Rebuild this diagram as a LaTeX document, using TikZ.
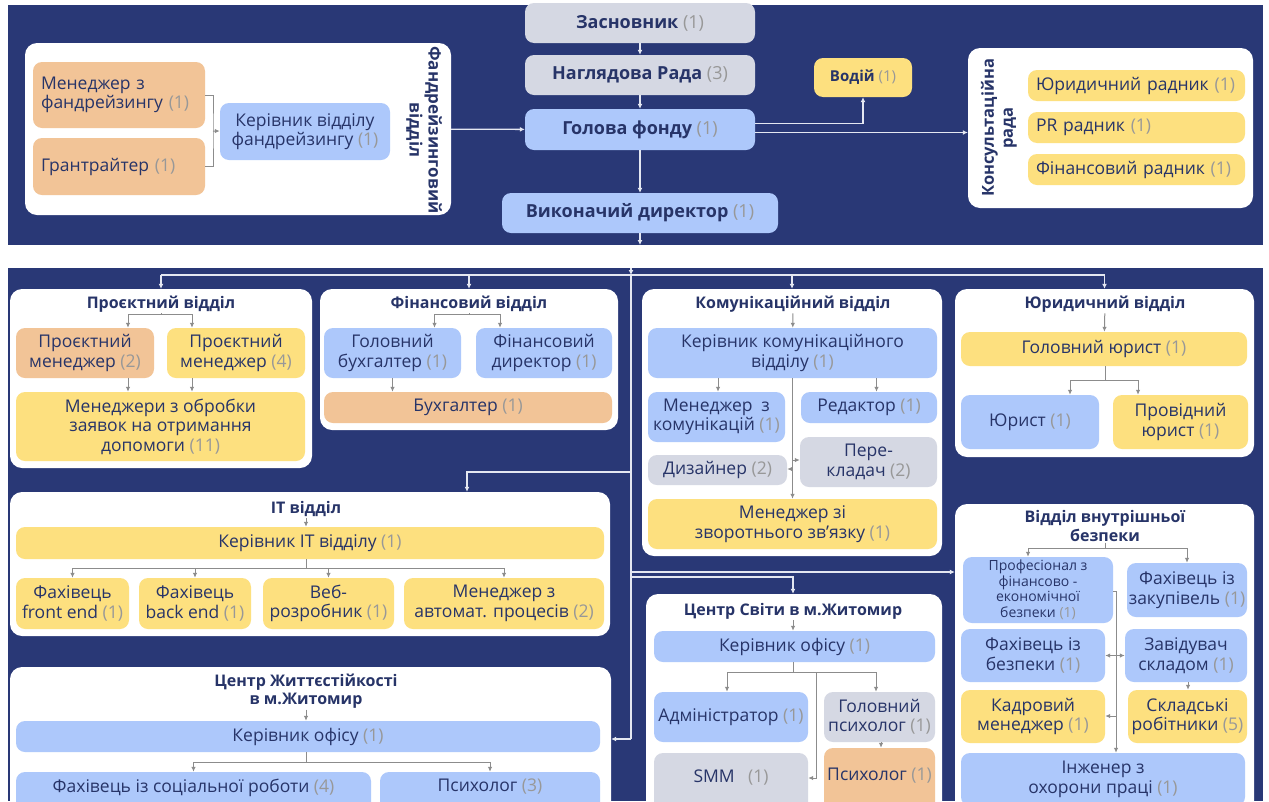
\documentclass[tikz,border=0pt]{standalone}
\usepackage{fontspec}
\setmainfont{Open Sans}
\usetikzlibrary{arrows.meta}

\definecolor{navy}{RGB}{41,56,118}
\definecolor{ink}{RGB}{39,52,104}
\definecolor{cntgray}{RGB}{152,152,152}
\definecolor{boxblue}{RGB}{173,200,251}
\definecolor{boxyel}{RGB}{253,224,127}
\definecolor{boxorg}{RGB}{242,196,151}
\definecolor{boxgray}{RGB}{213,216,227}
\definecolor{wl}{RGB}{228,231,241}
\definecolor{gl}{RGB}{140,140,140}

\newcommand{\fsz}[2]{\fontsize{#1}{#2}\selectfont}
\newcommand{\cntn}[1]{{\mdseries\color{cntgray}(#1)}}
% style, name, x1, y1, x2, y2, text
\newcommand{\rbox}[7]{
    \node[#1, minimum width={(#5-#3)*1pt}, minimum height={(#6-#4)*1pt}]
        (#2) at ({(#3+#5)/2},{(#4+#6)/2}) {#7};
}

\tikzset{
    card/.style={rounded corners=9pt, inner sep=1pt, align=center, text=ink, font=\fsz{17.5}{19.5}},
    blubox/.style={card, fill=boxblue},
    yelbox/.style={card, fill=boxyel},
    orgbox/.style={card, fill=boxorg},
    grybox/.style={card, fill=boxgray},
    dept/.style={rounded corners=12pt, fill=white},
    ttl/.style={text=ink, font=\bfseries\fsz{16}{18.5}, align=center, inner sep=1pt},
    topfont/.style={font=\bfseries\fsz{18}{20}},
    lft/.style={align=left, inner xsep=8pt, text width=#1},
    cutbox/.style={text depth=#1},
    wline/.style={draw=wl, line width=1.3pt},
    warr/.style={wline, -{Latex[length=5pt,width=5pt]}},
    gline/.style={draw=gl, line width=1pt},
    garr/.style={gline, -{Latex[length=5pt,width=4.5pt]}},
    dbl/.style={gline, {Latex[length=5pt,width=4.5pt]}-{Latex[length=5pt,width=4.5pt]}}
}

\begin{document}
\begin{tikzpicture}[x=1pt, y=-1pt]
    \useasboundingbox (0,0) rectangle (1269,801);
    \clip (0,0) rectangle (1269,801);
    \fill[white] (0,0) rectangle (1269,801);
    \fill[navy] (8,5) rectangle (1263,245);
    \fill[navy] (8,268) rectangle (1263,801);

    % top part
    \rbox{grybox,topfont}{zas}{525}{3}{755}{43}{Засновник \cntn{1}}
    \rbox{grybox,topfont}{nag}{525}{55}{755}{95}{Наглядова Рада \cntn{3}}
    \rbox{blubox,topfont}{hol}{525}{109}{755}{150}{Голова фонду \cntn{1}}
    \rbox{blubox,topfont}{vyk}{502}{193}{778}{233}{Виконачий директор \cntn{1}}
    \rbox{yelbox,font=\bfseries\fsz{15}{17}}{vod}{814}{58}{912}{97}{Водій \cntn{1}}

    \rbox{dept}{kons}{968}{48}{1253}{208}{}
    \node[ttl, rotate=90, font=\bfseries\fsz{16.5}{19}] (ktit) at (999,128) {Консультаційна\\рада};
    \rbox{yelbox,lft=201pt}{yr}{1028}{70}{1245}{101}{Юридичний радник \cntn{1}}
    \rbox{yelbox,lft=201pt}{prr}{1028}{112}{1245}{143}{PR радник \cntn{1}}
    \rbox{yelbox,lft=201pt}{fr}{1028}{154}{1245}{185}{Фінансовий радник \cntn{1}}

    \rbox{dept}{fund}{25}{43}{451}{215}{}
    \node[ttl, rotate=-90, font=\bfseries\fsz{17}{19}] (ftit) at (424,130) {Фандрейзинговий\\відділ};
    \rbox{orgbox,lft=156pt}{menf}{33}{62}{205}{128}{Менеджер з\\фандрейзингу \cntn{1}}
    \rbox{orgbox,lft=156pt}{grant}{33}{138}{205}{195}{Грантрайтер \cntn{1}}
    \rbox{blubox}{kerf}{220}{103}{390}{160}{Керівник відділу\\фандрейзингу \cntn{1}}

    \draw[warr] (zas) -- (nag);
    \draw[warr] (nag) -- (hol);
    \draw[warr] (hol) -- (vyk);
    \coordinate (vend) at (640,245);
    \draw[warr] (vyk) -- (vend);
    \coordinate (brk) at (213,131);
    \draw[gline] (menf.east) -| (brk) |- (grant.east);
    \draw[garr] (brk) -- (kerf);
    \draw[warr] (fund) -- (hol);
    \draw[warr] ([yshift=6pt]hol.east) -| (vod);
    \draw[warr] ([yshift=-3pt]hol.east) -- ([yshift=-3pt]hol.east -| kons.west);

    % departments
    \rbox{dept}{proj}{10}{289}{312}{468}{}
    \node[ttl] (ptit) at (161,304) {Проєктний відділ};
    \rbox{orgbox}{pm2}{16}{328}{154}{378}{Проєктний\\менеджер \cntn{2}}
    \rbox{yelbox}{pm4}{167}{328}{305}{378}{Проєктний\\менеджер \cntn{4}}
    \rbox{yelbox}{mzo}{16}{392}{305}{461}{Менеджери з обробки\\заявок на отримання\\допомоги \cntn{11}}

    \rbox{dept}{fin}{320}{289}{618}{430}{}
    \node[ttl] (fntit) at (469,304) {Фінансовий відділ};
    \rbox{blubox}{gb}{324}{328}{461}{378}{Головний\\бухгалтер \cntn{1}}
    \rbox{blubox}{fd}{476}{328}{612}{378}{Фінансовий\\директор \cntn{1}}
    \rbox{orgbox}{bukh}{324}{392}{612}{423}{Бухгалтер \cntn{1}}

    \rbox{dept}{com}{642}{289}{942}{556}{}
    \node[ttl] (ctit) at (793,304) {Комунікаційний відділ};
    \rbox{blubox}{kk}{648}{328}{937}{378}{Керівник комунікаційного\\відділу \cntn{1}}
    \rbox{blubox}{mk}{648}{392}{785}{442}{Менеджер\enspace з\\комунікацій \cntn{1}}
    \rbox{blubox}{red}{801}{392}{937}{423}{Редактор \cntn{1}}
    \rbox{grybox}{diz}{648}{455}{787}{485}{Дизайнер \cntn{2}}
    \rbox{grybox}{per}{800}{437}{937}{487}{Пере-\\кладач \cntn{2}}
    \rbox{yelbox}{mzz}{648}{499}{937}{549}{Менеджер зі\\зворотнього зв’язку \cntn{1}}

    \rbox{dept}{yur}{955}{289}{1254}{457}{}
    \node[ttl] (ytit) at (1105,304) {Юридичний відділ};
    \rbox{yelbox}{gy}{961}{332}{1247}{366}{Головний юрист \cntn{1}}
    \rbox{blubox}{ju}{961}{395}{1099}{449}{Юрист \cntn{1}}
    \rbox{yelbox}{pju}{1113}{395}{1248}{449}{Провідний\\юрист \cntn{1}}

    \rbox{dept}{it}{10}{492}{610}{636}{}
    \node[ttl] (itit) at (306,509) {IT відділ};
    \rbox{yelbox}{kit}{16}{527}{604}{559}{Керівник IT відділу \cntn{1}}
    \rbox{yelbox}{fe}{16}{578}{129}{629}{Фахівець\\front end \cntn{1}}
    \rbox{yelbox}{be}{139}{578}{251}{629}{Фахівець\\back end \cntn{1}}
    \rbox{yelbox}{web}{263}{578}{394}{629}{Веб-\\розробник \cntn{1}}
    \rbox{yelbox}{avt}{404}{578}{604}{629}{Менеджер з\\автомат. процесів \cntn{2}}

    \rbox{dept}{zh}{10}{667}{611}{830}{}
    \node[ttl] (ztit) at (306,691) {Центр Життєстійкості\\в м.Житомир};
    \rbox{blubox}{ko1}{16}{721}{600}{752}{Керівник офісу \cntn{1}}
    \rbox{blubox,cutbox=13pt}{soc}{16}{772}{371}{812}{Фахівець із соціальної роботи \cntn{4}}
    \rbox{blubox,cutbox=13pt}{ps3}{380}{772}{600}{812}{Психолог \cntn{3}}

    \rbox{dept}{svit}{646}{594}{942}{830}{}
    \node[ttl] (stit) at (793,611) {Центр Світи в м.Житомир};
    \rbox{blubox}{ko2}{654}{631}{935}{662}{Керівник офісу \cntn{1}}
    \rbox{blubox}{adm}{654}{692}{808}{742}{Адміністратор \cntn{1}}
    \rbox{grybox}{gps}{824}{692}{935}{742}{Головний\\психолог \cntn{1}}
    \rbox{grybox,cutbox=12pt}{smm}{654}{753}{808}{812}{SMM \enspace\cntn{1}}
    \rbox{orgbox,cutbox=11pt}{psy}{824}{748}{935}{812}{Психолог \cntn{1}}

    \rbox{dept}{bez}{955}{504}{1254}{830}{}
    \node[ttl] (btit) at (1105,526) {Відділ внутрішньої\\безпеки};
    \rbox{blubox,font=\fsz{14}{15.5}}{pfe}{963}{557}{1113}{623}{Професіонал з\\фінансово -\\економічної\\безпеки \cntn{1}}
    \rbox{blubox}{fzak}{1127}{563}{1247}{617}{Фахівець із\\закупівель \cntn{1}}
    \rbox{blubox}{fbez}{961}{629}{1105}{682}{Фахівець із\\безпеки \cntn{1}}
    \rbox{blubox}{zav}{1125}{629}{1247}{682}{Завідувач\\складом \cntn{1}}
    \rbox{yelbox}{kadr}{961}{690}{1105}{743}{Кадровий\\менеджер \cntn{1}}
    \rbox{yelbox}{skl}{1128}{690}{1247}{743}{Складські\\робітники \cntn{5}}
    \rbox{blubox}{inzh}{961}{753}{1245}{806}{Інженер з\\охорони праці \cntn{1}}

    % main spine
    \coordinate (s0) at (631,268);
    \coordinate (s1) at (631,275);
    \coordinate (sl) at (161,275);
    \coordinate (sr) at (1105,275);
    \draw[warr] (s0) -- (s1);
    \draw[wline] (sl) -- (sr);
    \foreach \d in {proj,fin,com,yur}
        \draw[warr] (\d.north |- s1) -- (\d.north);
    \coordinate (s2) at (631,739);
    \draw[wline] (s1) -- (s2);
    \draw[warr] (s2) -- (s2 -| zh.east);
    \coordinate (s3) at (631,472);
    \coordinate (s3a) at (467,472);
    \draw[warr] (s3) -- (s3a) -- (s3a |- it.north);
    \coordinate (s4) at (631,572);
    \draw[warr] (s4) -- (s4 -| bez.west);
    \coordinate (s5) at (631,577);
    \coordinate (s5a) at (793,577);
    \draw[warr] (s5) -- (s5a) -- (s5a |- svit.north);

    % inside departments
    \coordinate (p1) at (161,314);
    \draw[gline] (ptit) -- (p1);
    \draw[garr] (p1) -| ([xshift=43pt]pm2.north);
    \draw[garr] (p1) -| ([xshift=-44pt]pm4.north);
    \draw[garr] ([xshift=43pt]pm2.south) -- ([xshift=43pt]pm2.south |- mzo.north);
    \draw[garr] ([xshift=-44pt]pm4.south) -- ([xshift=-44pt]pm4.south |- mzo.north);

    \coordinate (f1) at (469,314);
    \draw[gline] (fntit) -- (f1);
    \draw[garr] (f1) -| ([xshift=42pt]gb.north);
    \draw[garr] (f1) -| ([xshift=-44pt]fd.north);
    \draw[garr] (gb.south) -- (gb.south |- bukh.north);

    \draw[garr] (ctit) -- (kk);
    \draw[garr] ([xshift=1.5pt]mk.north |- kk.south) -- ([xshift=1.5pt]mk.north);
    \draw[garr] ([xshift=7.5pt]red.north |- kk.south) -- ([xshift=7.5pt]red.north);
    \draw[garr] (kk.south) -- (kk.south |- mzz.north);
    \coordinate (c1) at (793,469);
    \coordinate (c2) at (793,460);
    \draw[garr] (c1) -- (c1 -| diz.east);
    \draw[garr] (c2) -- (c2 -| per.west);

    \draw[garr] (ytit) -- (gy);
    \coordinate (y1) at (1105,380);
    \draw[gline] (y1 |- gy.south) -- (y1);
    \draw[garr] (y1) -| ([xshift=40pt]ju.north);
    \draw[garr] (y1) -| ([xshift=-42.5pt]pju.north);

    \draw[garr] (itit) -- (itit |- kit.north);
    \coordinate (i1) at (306,568);
    \draw[gline] (i1 |- kit.south) -- (i1);
    \foreach \n in {fe,be,web,avt}
        \draw[garr] (i1) -| (\n.north);

    \draw[garr] (ztit) -- (ztit |- ko1.north);
    \coordinate (z1) at (306,762);
    \draw[gline] (z1 |- ko1.south) -- (z1);
    \foreach \n in {soc,ps3}
        \draw[garr] (z1) -| (\n.north);

    \draw[garr] (stit) -- (stit |- ko2.north);
    \coordinate (v1) at (793,672);
    \draw[gline] (v1 |- ko2.south) -- (v1);
    \draw[garr] (v1) -| ([xshift=-4pt]adm.north);
    \draw[garr] (v1) -| ([xshift=-3.5pt]gps.north);
    \coordinate (v2) at (816,672);
    \coordinate (v3) at (816,778);
    \draw[garr] (v2) -- (v3) -- (v3 -| smm.east);
    \draw[garr] ([xshift=1.5pt]gps.south) -- ([xshift=1.5pt]gps.south |- psy.north);

    \coordinate (b1) at (1105,548);
    \draw[gline] (btit) -- (b1);
    \draw[garr] (b1) -| ([xshift=-10pt]pfe.north);
    \draw[garr] (b1) -| (fzak.north);
    \coordinate (b2) at (1116,591);
    \draw[gline] (b2 -| pfe.east) -- (b2);
    \draw[garr] (b2) -- (b2 |- inzh.north);
    \draw[dbl] (fbez) -- (zav);
    \coordinate (b3) at (1116,716);
    \draw[garr] (b3) -- (b3 -| kadr.east);
    \draw[garr] ([xshift=2pt]zav.south) -- ([xshift=2pt]zav.south |- skl.north);
\end{tikzpicture}
\end{document}
